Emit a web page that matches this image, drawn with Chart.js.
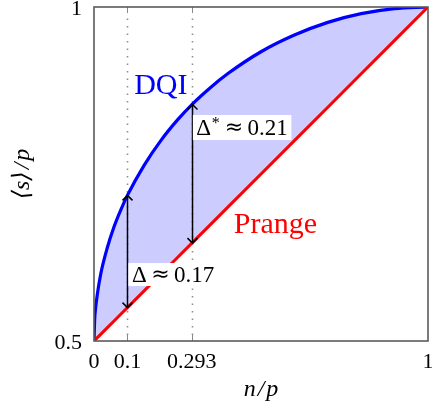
<!DOCTYPE html>
<html><head><meta charset="utf-8">
<script src="https://cdn.jsdelivr.net/npm/chart.js@4/dist/chart.umd.min.js"></script>
<style>html,body{margin:0;padding:0;background:#fff}#wrap{width:432px;height:417px}</style>
</head><body><div id="wrap"><canvas id="c" width="432" height="417"></canvas></div>
<script>
// ---- data ----
const xValues      = [0, 0.002, 0.005, 0.01, 0.02, 0.04, 0.06, 0.08, 0.1, 0.15, 0.2, 0.25, 0.293, 0.35, 0.4, 0.5, 0.6, 0.7, 0.8, 0.9, 1];
const dqiValues    = [0.5, 0.532, 0.550, 0.570, 0.600, 0.640, 0.671, 0.696, 0.718, 0.763, 0.800, 0.831, 0.854, 0.880, 0.900, 0.933, 0.958, 0.977, 0.990, 0.9975, 1];
const prangeValues = [0.5, 0.501, 0.5025, 0.505, 0.51, 0.52, 0.53, 0.54, 0.55, 0.575, 0.6, 0.625, 0.6465, 0.675, 0.7, 0.75, 0.8, 0.85, 0.9, 0.95, 1];
const xTickValues  = [0, 0.1, 0.293, 1];
const xTickLabels  = ['0', '0.1', '0.293', '1'];
const yTickValues  = [0.5, 1];
const yTickLabels  = ['0.5', '1'];
const markerX      = [0.1, 0.293];
const gapLow       = [0.55, 0.6465];
const gapHigh      = [0.718, 0.854];
const gapLabels    = ['Δ', 'Δ'];
const gapSup       = ['', '*'];
const gapValues    = ['0.17', '0.21'];
const seriesNames  = ['Prange', 'DQI'];

const SERIF = '"Liberation Serif", "Times New Roman", "DejaVu Serif", serif';
Chart.defaults.font.family = SERIF;
Chart.defaults.color = '#000';

const pts = (ys) => xValues.map((x, i) => ({x: x, y: ys[i]}));

const overlay = {
  id: 'overlay',
  beforeDatasetsDraw(chart) {
    const {ctx, chartArea: a, scales: {x}} = chart;
    ctx.save();
    ctx.strokeStyle = '#909090';
    ctx.lineWidth = 1.6;
    ctx.setLineDash([1.6, 5.9]);
    markerX.forEach(v => {
      const px = Math.round(x.getPixelForValue(v)) + 0.5;
      ctx.beginPath(); ctx.moveTo(px, a.bottom - 6); ctx.lineTo(px, a.top + 6); ctx.stroke();
    });
    ctx.restore();
  },
  afterDatasetsDraw(chart) {
    const {ctx, chartArea: a, scales: {x, y}} = chart;
    ctx.save();
    // inner tick marks
    ctx.strokeStyle = '#888'; ctx.lineWidth = 1; ctx.setLineDash([]);
    markerX.forEach(v => {
      const px = Math.round(x.getPixelForValue(v)) + 0.5;
      ctx.beginPath(); ctx.moveTo(px, a.bottom); ctx.lineTo(px, a.bottom - 6);
      ctx.moveTo(px, a.top); ctx.lineTo(px, a.top + 6); ctx.stroke();
    });
    // frame
    ctx.strokeStyle = '#5a5a5a'; ctx.lineWidth = 1.6;
    ctx.strokeRect(a.left, a.top, a.right - a.left, a.bottom - a.top);
    // arrows
    ctx.strokeStyle = '#000'; ctx.lineWidth = 1.5;
    markerX.forEach((v, i) => {
      const px = Math.round(x.getPixelForValue(v)) + 0.5;
      const y1 = y.getPixelForValue(gapLow[i]);
      const y2 = y.getPixelForValue(gapHigh[i]);
      ctx.beginPath(); ctx.moveTo(px, y1); ctx.lineTo(px, y2); ctx.stroke();
      ctx.beginPath();
      ctx.moveTo(px - 5, y2 + 5); ctx.quadraticCurveTo(px - 1.5, y2 + 1.5, px, y2); ctx.quadraticCurveTo(px + 1.5, y2 + 1.5, px + 5, y2 + 5);
      ctx.moveTo(px - 5, y1 - 5); ctx.quadraticCurveTo(px - 1.5, y1 - 1.5, px, y1); ctx.quadraticCurveTo(px + 1.5, y1 - 1.5, px + 5, y1 - 5);
      ctx.stroke();
    });
    // gap labels (white boxes)
    const labelY = [0.5995, 0.8196];
    markerX.forEach((v, i) => {
      const px = x.getPixelForValue(v);
      const cy = y.getPixelForValue(labelY[i]);
      const main = '23px ' + SERIF, sup = '16px ' + SERIF, rel = '22px "DejaVu Sans", sans-serif';
      ctx.font = main; const w1 = ctx.measureText(gapLabels[i]).width;
      ctx.font = sup;  const w2 = gapSup[i] ? ctx.measureText(gapSup[i]).width + 1 : 0;
      ctx.font = rel;  const wr = ctx.measureText('≈').width;
      ctx.font = main; const w3 = ctx.measureText(gapValues[i]).width;
      const gap = 4.5;
      const total = w1 + w2 + gap + wr + gap + w3;
      const h = gapSup[i] ? 25 : 23;
      const left = px + 1;
      ctx.fillStyle = '#fff';
      ctx.fillRect(left, cy - h / 2, total + 7, h);
      ctx.fillStyle = '#000'; ctx.textBaseline = 'alphabetic'; ctx.textAlign = 'left';
      const base = cy + 7.5;
      let tx = left + 3.5;
      ctx.font = main; ctx.fillText(gapLabels[i], tx, base); tx += w1;
      if (gapSup[i]) { ctx.font = sup; ctx.fillText(gapSup[i], tx + 0.5, base - 7); tx += w2; }
      tx += gap;
      ctx.font = rel; ctx.fillText('≈', tx, base - 1); tx += wr + gap;
      ctx.font = main; ctx.fillText(gapValues[i], tx, base);
    });
    // series names
    ctx.font = '30px ' + SERIF; ctx.textAlign = 'center'; ctx.textBaseline = 'alphabetic';
    ctx.fillStyle = '#0000ff';
    ctx.fillText(seriesNames[1], x.getPixelForValue(0.2), y.getPixelForValue(0.87));
    ctx.fillStyle = '#ff0000';
    ctx.fillText(seriesNames[0], x.getPixelForValue(0.543), y.getPixelForValue(0.6612));
    ctx.restore();
  }
};

new Chart(document.getElementById('c'), {
  type: 'line',
  data: {
    datasets: [
      { label: seriesNames[0], data: pts(prangeValues), borderColor: '#ff0000', borderWidth: 3,
        pointRadius: 0, fill: false, tension: 0 },
      { label: seriesNames[1], data: pts(dqiValues), borderColor: '#0000ff', borderWidth: 3.2,
        pointRadius: 0, fill: 0, backgroundColor: 'rgba(0,0,255,0.2)', cubicInterpolationMode: 'monotone' }
    ]
  },
  options: {
    responsive: false, animation: false, events: [],
    layout: { padding: { left: 0, right: 4, top: 7, bottom: 0 } },
    plugins: { legend: { display: false }, tooltip: { enabled: false } },
    scales: {
      x: {
        type: 'linear', min: 0, max: 1,
        afterBuildTicks: s => { s.ticks = xTickValues.map(v => ({value: v})); },
        afterFit: s => { s.height = 76; s.paddingLeft = 0; s.paddingRight = 0; },
        grid: { display: false, drawTicks: false }, border: { display: false },
        ticks: { autoSkip: false, maxRotation: 0, padding: 8, font: { size: 22 },
                 callback: (v) => xTickLabels[xTickValues.indexOf(v)] },
        title: { display: true, text: 'n\u200A/\u200Ap', font: { size: 24, style: 'italic' }, padding: { top: 0, bottom: 13 } }
      },
      y: {
        type: 'linear', min: 0.5, max: 1,
        afterBuildTicks: s => { s.ticks = yTickValues.map(v => ({value: v})); },
        afterFit: s => { s.width = 94; s.paddingTop = 0; s.paddingBottom = 0; },
        grid: { display: false, drawTicks: false }, border: { display: false },
        ticks: { autoSkip: false, padding: 12, labelOffset: 2, font: { size: 22 },
                 callback: (v) => yTickLabels[yTickValues.indexOf(v)] },
        title: { display: true, text: '⟨s⟩\u200A/\u200Ap', font: { size: 24, style: 'italic' }, padding: { top: 8, bottom: 0 } }
      }
    }
  },
  plugins: [overlay]
});
</script>
</body></html>
